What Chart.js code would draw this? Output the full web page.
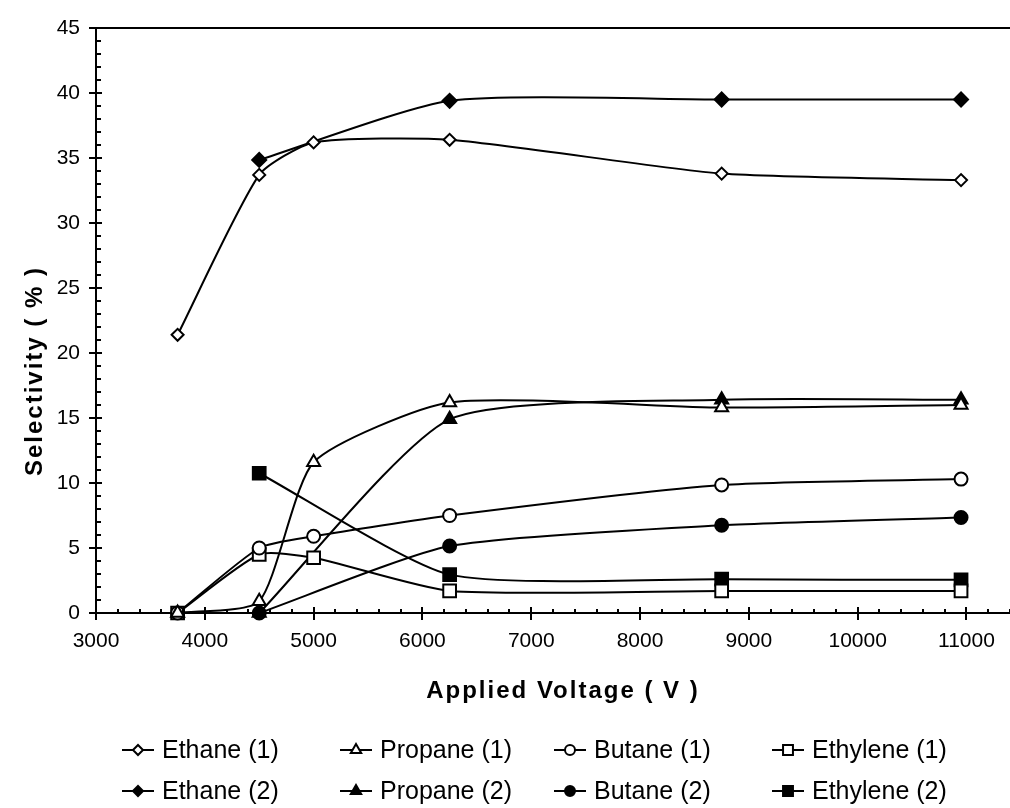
<!DOCTYPE html>
<html>
<head>
<meta charset="utf-8">
<title>Selectivity vs Applied Voltage</title>
<script src="https://cdn.jsdelivr.net/npm/chart.js@4.4.1/dist/chart.umd.min.js"></script>
<style>
  html, body { margin: 0; padding: 0; background: #fff; overflow: hidden; }
  #wrap { width: 1010px; height: 808px; }
</style>
</head>
<body>
<div id="wrap"><canvas id="chart" width="1010" height="808"></canvas></div>
<script>
// Applied voltage (V) at which each run was measured
const voltages1 = [3750, 4500, 5000, 6250, 8750, 10950];
const voltages2 = [4500, 6250, 8750, 10950];

// Selectivity (%) — run (1)
const ethane1   = [21.4, 33.7, 36.2, 36.4, 33.8, 33.3];
const propane1  = [0, 0.9, 11.6, 16.2, 15.8, 16.0];
const butane1   = [0, 5.0, 5.9, 7.5, 9.85, 10.3];
const ethylene1 = [0, 4.5, 4.25, 1.7, 1.7, 1.7];

// Selectivity (%) — run (2)
const ethane2   = [34.85, 39.4, 39.5, 39.5];
const propane2  = [0, 14.9, 16.4, 16.4];
const butane2   = [0, 5.15, 6.75, 7.35];
const ethylene2 = [10.75, 2.95, 2.6, 2.55];

// Axis tick values
const xTickValues = [3000, 4000, 5000, 6000, 7000, 8000, 9000, 10000, 11000];
const yTickValues = [0, 5, 10, 15, 20, 25, 30, 35, 40, 45];

const xTitle = 'Applied Voltage ( V )';
const yTitle = 'Selectivity ( % )';

const FONT = '"Liberation Sans", Arial, Helvetica, sans-serif';

function series(label, xs, ys, style, filled, radius) {
  return {
    label,
    data: xs.map((x, i) => ({ x, y: ys[i] })),
    borderColor: '#000',
    borderWidth: 2,
    pointStyle: style,
    pointRadius: radius,
    pointBorderWidth: 2,
    pointBorderColor: '#000',
    pointBackgroundColor: filled ? '#000' : '#fff',
    tension: 0.2,
    clip: false,
    fill: false
  };
}

const datasets = [
  series('Ethane (1)',   voltages1, ethane1,   'rectRot',  false, 6),
  series('Propane (1)',  voltages1, propane1,  'triangle', false, 7.5),
  series('Butane (1)',   voltages1, butane1,   'circle',   false, 6.5),
  series('Ethylene (1)', voltages1, ethylene1, 'rect',     false, 9),
  series('Ethane (2)',   voltages2, ethane2,   'rectRot',  true,  7),
  series('Propane (2)',  voltages2, propane2,  'triangle', true,  7.5),
  series('Butane (2)',   voltages2, butane2,   'circle',   true,  6.5),
  series('Ethylene (2)', voltages2, ethylene2, 'rect',     true,  9)
];

// Frame, inner tick marks, axis titles and the two-row legend
const decorations = {
  id: 'decorations',
  afterDraw(chart) {
    const { ctx, chartArea: a, scales: { x, y } } = chart;
    ctx.save();
    ctx.strokeStyle = '#000';
    ctx.fillStyle = '#000';
    ctx.lineWidth = 2;

    // top frame line
    ctx.beginPath();
    ctx.moveTo(a.left, a.top);
    ctx.lineTo(a.right, a.top);
    ctx.stroke();

    // y ticks: every unit, drawn toward the plot
    ctx.beginPath();
    for (let v = 0; v <= 45; v++) {
      const py = Math.round(y.getPixelForValue(v));
      ctx.moveTo(a.left, py);
      ctx.lineTo(a.left + (v % 5 === 0 ? 6 : 5), py);
    }
    // x ticks: majors cross the axis, minors every 200 V above it
    for (let v = 3000; v <= 11400; v += 200) {
      const px = Math.round(x.getPixelForValue(v));
      ctx.moveTo(px, a.bottom);
      ctx.lineTo(px, a.bottom - (v % 1000 === 0 ? 6 : 4));
    }
    ctx.stroke();

    // axis titles
    ctx.letterSpacing = '2px';
    ctx.font = 'bold 24px ' + FONT;
    ctx.textAlign = 'center';
    ctx.textBaseline = 'middle';
    ctx.fillText(xTitle, 563, 691);
    ctx.save();
    ctx.translate(35, 371);
    ctx.rotate(-Math.PI / 2);
    ctx.fillText(yTitle, 0, 0);
    ctx.restore();

    // legend: four columns, two rows
    const textX = [162, 380, 594, 812];
    const rowY = [750, 791];
    ctx.letterSpacing = '0px';
    ctx.font = '25px ' + FONT;
    ctx.textAlign = 'left';
    chart.data.datasets.forEach((ds, i) => {
      const tx = textX[i % 4];
      const cy = rowY[Math.floor(i / 4)];
      ctx.strokeStyle = '#000';
      ctx.lineWidth = 2;
      ctx.beginPath();
      ctx.moveTo(tx - 40, cy);
      ctx.lineTo(tx - 8, cy);
      ctx.stroke();
      ctx.fillStyle = ds.pointBackgroundColor;
      const r = ds.pointStyle === 'rect' ? 7 : (ds.pointStyle === 'triangle' ? 6 : 5);
      Chart.helpers.drawPoint(ctx, { pointStyle: ds.pointStyle, radius: r, rotation: 0, borderWidth: 2 }, tx - 24, cy);
      ctx.fillStyle = '#000';
      ctx.fillText(ds.label, tx, cy + 1);
    });
    ctx.restore();
  }
};

const tickFont = { family: FONT, size: 21 };

new Chart(document.getElementById('chart'), {
  type: 'line',
  data: { datasets },
  options: {
    responsive: false,
    animation: false,
    devicePixelRatio: 1,
    layout: { autoPadding: false, padding: { top: 28, left: 0, right: 0, bottom: 105 } },
    plugins: { legend: { display: false }, tooltip: { enabled: false } },
    scales: {
      x: {
        type: 'linear',
        min: 3000,
        max: 11400,
        afterBuildTicks: s => { s.ticks = xTickValues.map(v => ({ value: v })); },
        afterFit: s => { s.height = 90; s.paddingLeft = 0; s.paddingRight = 0; },
        ticks: {
          includeBounds: false,
          autoSkip: false,
          maxRotation: 0,
          padding: 9,
          color: '#000',
          font: tickFont,
          callback: v => String(v)
        },
        grid: { display: true, drawOnChartArea: false, drawTicks: true, tickLength: 7, color: '#000', lineWidth: 2 },
        border: { display: true, color: '#000', width: 2 }
      },
      y: {
        type: 'linear',
        min: 0,
        max: 45,
        afterBuildTicks: s => { s.ticks = yTickValues.map(v => ({ value: v })); },
        afterFit: s => { s.width = 96; s.paddingTop = 0; s.paddingBottom = 0; },
        ticks: {
          includeBounds: false,
          autoSkip: false,
          padding: 9,
          color: '#000',
          font: tickFont,
          callback: v => String(v)
        },
        grid: { display: true, drawOnChartArea: false, drawTicks: true, tickLength: 7, color: '#000', lineWidth: 2 },
        border: { display: true, color: '#000', width: 2 }
      }
    }
  },
  plugins: [decorations]
});
</script>
</body>
</html>
